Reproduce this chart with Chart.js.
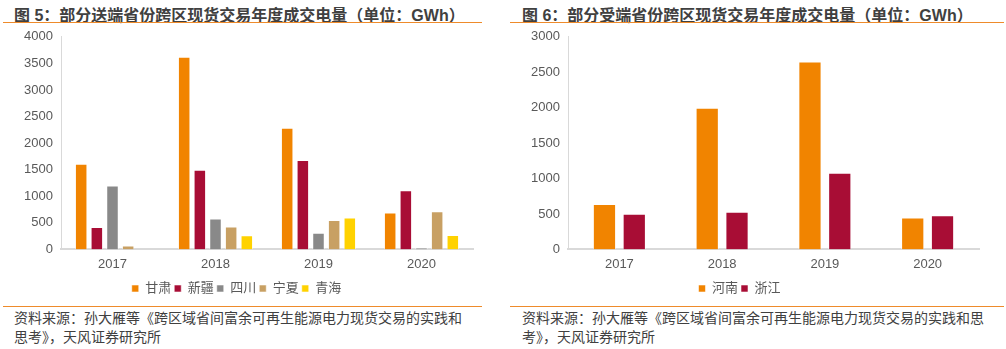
<!DOCTYPE html>
<html>
<head>
<meta charset="utf-8">
<script src="https://cdn.jsdelivr.net/npm/chart.js@4"></script>
<style>
  body { margin: 0; background: #fff; font-family: "Liberation Sans", "Noto Sans CJK SC", sans-serif; }
  #page { position: relative; width: 1006px; height: 349px; overflow: hidden; }
  .title { position: absolute; top: 2px; font-size: 16px; font-weight: bold; color: #404040; white-space: nowrap; }
  .line { position: absolute; height: 1px; background: #ee8b2b; }
  .src { position: absolute; font-size: 14px; line-height: 19px; color: #404040; white-space: nowrap; }
  .box { position: absolute; }
</style>
</head>
<body>
<div id="page">
  <div class="title" style="left:14px">图 5：部分送端省份跨区现货交易年度成交电量（单位：GWh）</div>
  <div class="title" style="left:522px">图 6：部分受端省份跨区现货交易年度成交电量（单位：GWh）</div>
  <div class="line" style="left:3px;width:479px;top:22px"></div>
  <div class="line" style="left:510px;width:494px;top:22px"></div>
  <div class="box" style="left:0;top:21px;width:482px;height:284px"><canvas id="c1"></canvas></div>
  <div class="box" style="left:500px;top:21px;width:506px;height:284px"><canvas id="c2"></canvas></div>
  <div class="line" style="left:3px;width:479px;top:306px"></div>
  <div class="line" style="left:510px;width:494px;top:306px"></div>
  <div class="src" style="left:14px;top:309px">资料来源：孙大雁等《跨区域省间富余可再生能源电力现货交易的实践和<br>思考》，天风证券研究所</div>
  <div class="src" style="left:522px;top:309px">资料来源：孙大雁等《跨区域省间富余可再生能源电力现货交易的实践和思<br>考》，天风证券研究所</div>
</div>
<script>
// 年份
const years = ['2017', '2018', '2019', '2020'];

// 图5 送端省份 (GWh)
const gansu    = [1610, 3625, 2290, 695];
const xinjiang = [420, 1500, 1680, 1115];
const sichuan  = [1200, 580, 315, 38];
const ningxia  = [75, 430, 555, 720];
const qinghai  = [0, 265, 600, 272];

// 图6 受端省份 (GWh)
const henan    = [640, 2000, 2650, 450];
const zhejiang = [502, 530, 1080, 483];

const ticks1 = [0, 500, 1000, 1500, 2000, 2500, 3000, 3500, 4000];
const ticks2 = [0, 500, 1000, 1500, 2000, 2500, 3000];

const ORANGE = '#f18400', RED = '#a80d35', GRAY = '#898989', TAN = '#c8a063', YELLOW = '#ffd200';
const fontFam = '"Liberation Sans", "Noto Sans CJK SC", sans-serif';

function ds(label, data, color) {
    return { label: label, data: data, backgroundColor: color,
             borderColor: 'rgba(255,255,255,0.55)', borderWidth: 1, borderSkipped: 'bottom' };
}

function makeChart(id, datasets, tickVals, yWidth, padRight, catPct, barPct) {
    return new Chart(document.getElementById(id), {
        type: 'bar',
        data: { labels: years, datasets: datasets },
        options: {
            responsive: true,
            maintainAspectRatio: false,
            animation: false,
            categoryPercentage: catPct,
            barPercentage: barPct,
            layout: { padding: { top: 0, right: padRight, bottom: 0, left: 0 } },
            plugins: {
                tooltip: { enabled: false },
                legend: {
                    position: 'bottom',
                    labels: { boxWidth: 7, boxHeight: 7, padding: 3, color: '#595959',
                              font: { size: 13, family: fontFam } }
                }
            },
            scales: {
                x: {
                    grid: { display: false, drawTicks: false },
                    border: { display: true, color: '#d9d9d9', width: 2 },
                    ticks: { color: '#595959', padding: 7, font: { size: 13, family: fontFam } }
                },
                y: {
                    min: 0,
                    max: tickVals[tickVals.length - 1],
                    afterBuildTicks: function (s) { s.ticks = tickVals.map(v => ({ value: v })); },
                    afterFit: function (s) { s.width = yWidth; },
                    grid: { display: false, drawTicks: false },
                    border: { display: true, color: '#d9d9d9', width: 1 },
                    ticks: { color: '#595959', padding: 8, font: { size: 13, family: fontFam },
                             callback: v => String(v) }
                }
            }
        }
    });
}

makeChart('c1', [
    ds('甘肃', gansu, ORANGE),
    ds('新疆', xinjiang, RED),
    ds('四川', sichuan, GRAY),
    ds('宁夏', ningxia, TAN),
    ds('青海', qinghai, YELLOW)
], ticks1, 61, 9, 0.76, 0.8);

makeChart('c2', [
    ds('河南', henan, ORANGE),
    ds('浙江', zhejiang, RED)
], ticks2, 68, 27, 0.58, 0.78);
</script>
</body>
</html>
